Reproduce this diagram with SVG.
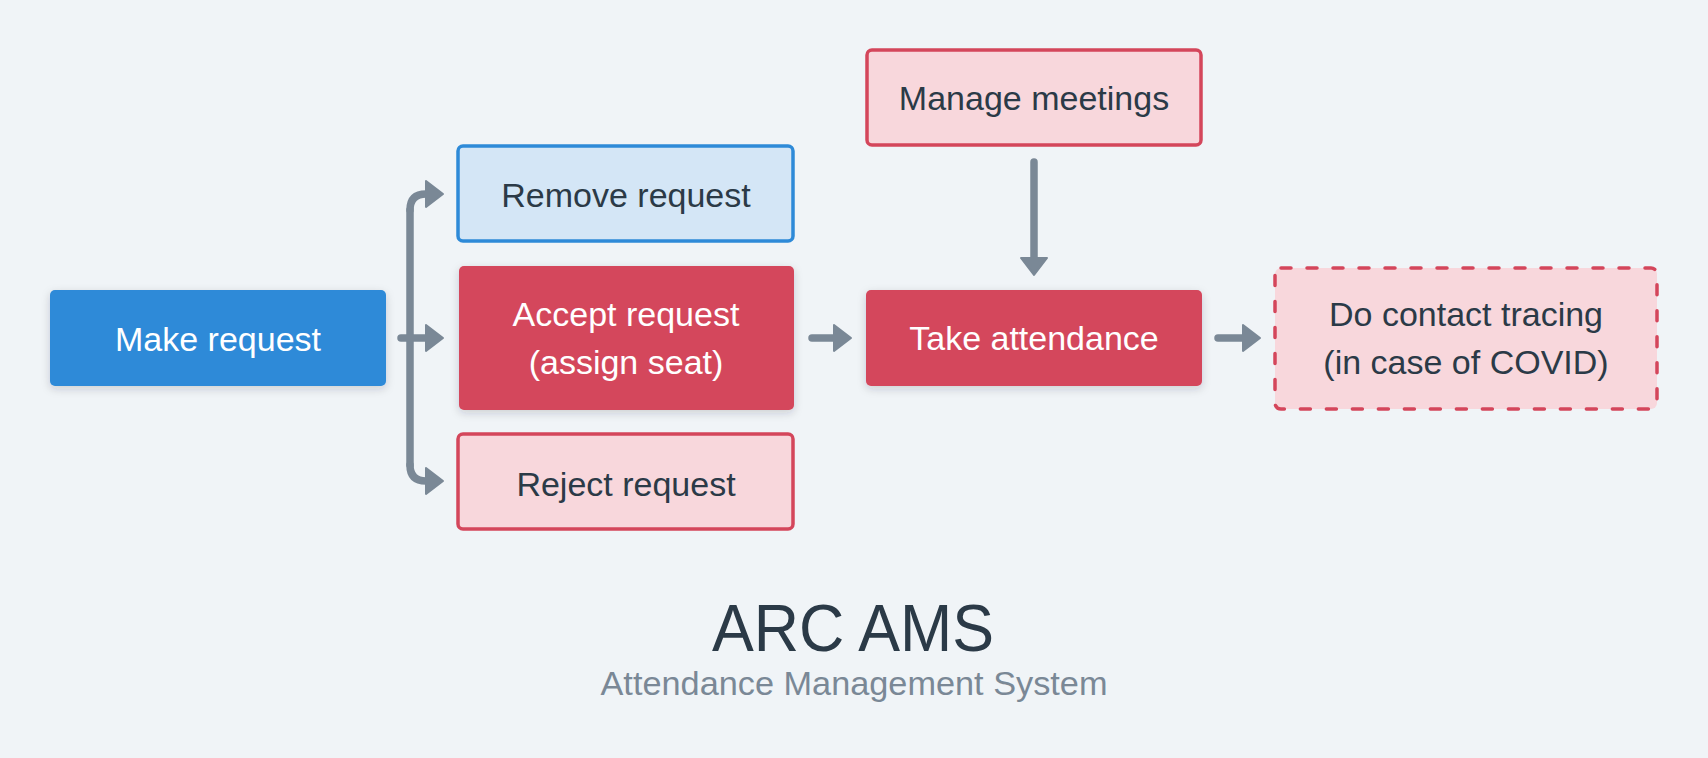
<svg xmlns="http://www.w3.org/2000/svg" width="1708" height="758" viewBox="0 0 1708 758">
  <defs>
    <filter id="shadow" x="-10%" y="-20%" width="120%" height="150%">
      <feDropShadow dx="0" dy="3" stdDeviation="4" flood-color="#1f2d3a" flood-opacity="0.18"/>
    </filter>
    <marker id="arrow" markerUnits="userSpaceOnUse" markerWidth="24" markerHeight="32" refX="1" refY="16" orient="auto" viewBox="0 0 24 32">
      <path d="M1,3 L18,16 L1,29 Z" fill="#7a8896" stroke="#7a8896" stroke-width="2" stroke-linejoin="round"/>
    </marker>
    <style>
      .bg { fill: #f0f4f7; }
      .solid-blue { fill: #2e8ad8; filter: url(#shadow); }
      .solid-red { fill: #d4465b; filter: url(#shadow); }
      .light-blue { fill: #d4e6f6; stroke: #2e8ad8; stroke-width: 3.5; }
      .light-red { fill: #f8d7dc; stroke: #d4465b; stroke-width: 3.5; }
      .dashed { fill: #f8d7dc; stroke: #d4465b; stroke-width: 3.5; stroke-dasharray: 10 16; stroke-linecap: round; }
      .t { font-family: "Liberation Sans", Arial, sans-serif; font-size: 34px; text-anchor: middle; }
      .white { fill: #ffffff; }
      .dark { fill: #2b3a47; }
      .conn { fill: none; stroke: #7a8896; stroke-width: 7.5; stroke-linecap: round; stroke-linejoin: round; }
      .title { font-family: "Liberation Sans", Arial, sans-serif; font-size: 67px; text-anchor: middle; fill: #2b3a47; }
      .subtitle { font-family: "Liberation Sans", Arial, sans-serif; font-size: 33px; text-anchor: middle; fill: #7a8896; }
    </style>
  </defs>

  <rect class="bg" x="0" y="0" width="1708" height="758"/>

  <g id="connectors">
    <path class="conn" d="M410,210 Q410,194 426,194" marker-end="url(#arrow)"/>
    <path class="conn" d="M410,210 L410,465"/>
    <path class="conn" d="M410,465 Q410,481 426,481" marker-end="url(#arrow)"/>
    <path class="conn" d="M401,338 L426,338" marker-end="url(#arrow)"/>
    <path class="conn" d="M812,338 L834,338" marker-end="url(#arrow)"/>
    <path class="conn" d="M1218,338 L1243,338" marker-end="url(#arrow)"/>
    <path class="conn" d="M1034,162 L1034,258" marker-end="url(#arrow)"/>
  </g>

  <g id="make-request">
    <rect class="solid-blue" x="50" y="290" width="336" height="96" rx="5"/>
    <text class="t white" x="218" y="351">Make request</text>
  </g>

  <g id="remove-request">
    <rect class="light-blue" x="458" y="146" width="335" height="95" rx="5"/>
    <text class="t dark" x="626" y="207">Remove request</text>
  </g>

  <g id="accept-request">
    <rect class="solid-red" x="459" y="266" width="335" height="144" rx="5"/>
    <text class="t white" x="626" y="326">Accept request</text>
    <text class="t white" x="626" y="374">(assign seat)</text>
  </g>

  <g id="reject-request">
    <rect class="light-red" x="458" y="434" width="335" height="95" rx="5"/>
    <text class="t dark" x="626" y="496">Reject request</text>
  </g>

  <g id="manage-meetings">
    <rect class="light-red" x="867" y="50" width="334" height="95" rx="5"/>
    <text class="t dark" x="1034" y="110">Manage meetings</text>
  </g>

  <g id="take-attendance">
    <rect class="solid-red" x="866" y="290" width="336" height="96" rx="5"/>
    <text class="t white" x="1034" y="350">Take attendance</text>
  </g>

  <g id="contact-tracing">
    <rect class="dashed" x="1275" y="268" width="382" height="141" rx="6"/>
    <text class="t dark" x="1466" y="326">Do contact tracing</text>
    <text class="t dark" x="1466" y="374">(in case of COVID)</text>
  </g>

  <g id="title">
    <text class="title" x="853" y="651" textLength="282" lengthAdjust="spacingAndGlyphs">ARC AMS</text>
    <text class="subtitle" x="854" y="695" textLength="507" lengthAdjust="spacingAndGlyphs">Attendance Management System</text>
  </g>
</svg>
